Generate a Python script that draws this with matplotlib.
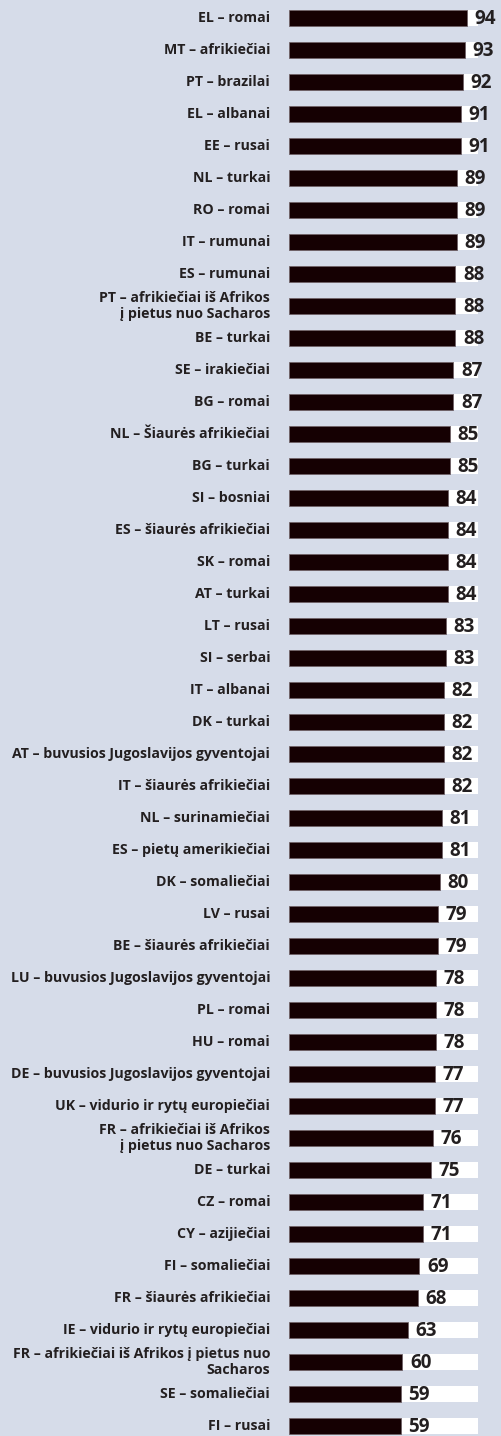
import matplotlib
matplotlib.use("Agg")
import matplotlib.pyplot as plt

labels = [
    "EL – romai", "MT – afrikiečiai", "PT – brazilai", "EL – albanai", "EE – rusai",
    "NL – turkai", "RO – romai", "IT – rumunai", "ES – rumunai",
    "PT – afrikiečiai iš Afrikos\nį pietus nuo Sacharos",
    "BE – turkai", "SE – irakiečiai", "BG – romai", "NL – Šiaurės afrikiečiai",
    "BG – turkai", "SI – bosniai", "ES – šiaurės afrikiečiai", "SK – romai",
    "AT – turkai", "LT – rusai", "SI – serbai", "IT – albanai", "DK – turkai",
    "AT – buvusios Jugoslavijos gyventojai", "IT – šiaurės afrikiečiai",
    "NL – surinamiečiai", "ES – pietų amerikiečiai", "DK – somaliečiai",
    "LV – rusai", "BE – šiaurės afrikiečiai", "LU – buvusios Jugoslavijos gyventojai",
    "PL – romai", "HU – romai", "DE – buvusios Jugoslavijos gyventojai",
    "UK – vidurio ir rytų europiečiai",
    "FR – afrikiečiai iš Afrikos\nį pietus nuo Sacharos",
    "DE – turkai", "CZ – romai", "CY – azijiečiai", "FI – somaliečiai",
    "FR – šiaurės afrikiečiai", "IE – vidurio ir rytų europiečiai",
    "FR – afrikiečiai iš Afrikos į pietus nuo\nSacharos",
    "SE – somaliečiai", "FI – rusai",
]
values = [94, 93, 92, 91, 91, 89, 89, 89, 88, 88, 88, 87, 87, 85, 85, 84, 84, 84,
          84, 83, 83, 82, 82, 82, 82, 81, 81, 80, 79, 79, 78, 78, 78, 77, 77, 76,
          75, 71, 71, 69, 68, 63, 60, 59, 59]
full_scale = 100

bg = "#d6dce9"
W, H = 501, 1436
fig = plt.figure(figsize=(W / 100, H / 100), dpi=100, facecolor=bg)
x0 = 289
px_per_unit = 1.89
ax = fig.add_axes([x0 / W, 0, 1 - x0 / W, 1])
ax.set_facecolor(bg)
ax.set_xlim(0, (W - x0) / px_per_unit)
row_px = 32.0
top_px = 18.0
ax.set_ylim((H - top_px) / row_px, -top_px / row_px)

n = len(values)
ys = list(range(n))
ax.barh(ys, [full_scale] * n, height=0.5, color="white", zorder=1)
ax.barh(ys, values, height=0.5, color="#150002", edgecolor="#6e6166",
        linewidth=0.6, zorder=2)

for y, v, lab in zip(ys, values, labels):
    ax.text(v + 4.0, y + 0.03, str(v), ha="left", va="center", fontsize=13.5,
            fontweight="bold", color="#231f20", family="Open Sans", zorder=3)
    ax.text(-10, y, lab, ha="right", va="center", fontsize=10.2,
            fontweight="bold", color="#231f20", family="Open Sans",
            linespacing=1.15, clip_on=False, multialignment="right")

ax.axis("off")
fig.savefig("out.png", dpi=100, facecolor=bg)
